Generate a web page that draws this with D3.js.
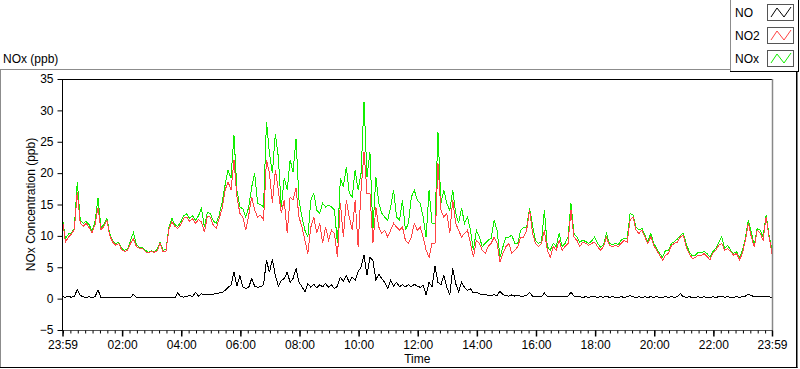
<!DOCTYPE html>
<html><head><meta charset="utf-8">
<script src="https://cdn.jsdelivr.net/npm/d3@7"></script>
<style>
body{margin:0;background:#fff}
svg{display:block}
text{font-family:"Liberation Sans",Arial,sans-serif;font-size:12px;fill:#000}
</style>
</head><body>
<svg id="chart" width="800" height="369"></svg>
<script>
// ---- data ----
const panelTitle = "NOx (ppb)";
const yTitle = "NOx Concentration (ppb)";
const xTitle = "Time";
const stepMinutes = 6; // sampling interval of the arrays below, starting at 23:59
const xTickMinutes = [0, 121, 241, 361, 481, 601, 721, 841, 961, 1081, 1201, 1321, 1440];
const xTickLabels = ["23:59","02:00","04:00","06:00","08:00","10:00","12:00","14:00","16:00","18:00","20:00","22:00","23:59"];
const yTickValues = [-5, 0, 5, 10, 15, 20, 25, 30, 35];
const seriesNames = ["NO", "NO2", "NOx"];
const seriesColors = ["#000000", "#ff4444", "#11ee00"];

const NO = [
0.3,0.2,0.4,0.2,0.4,1.4,0.5,0.3,0.2,0.3,
0.2,0.3,1.4,0.2,0.1,0.2,0.1,0.1,0.2,0.1,
0.1,0.2,0.1,0.2,0.7,0.2,0.1,0.1,0.1,0.1,
0.2,0.1,0.1,0.2,0.1,0.1,0.2,0.15,0.15,0.9,
0.3,0.25,0.3,0.5,0.3,1.0,0.4,0.8,0.6,0.6,
0.7,0.7,0.8,0.9,1.0,1.3,1.8,2.1,4.3,2.0,
3.6,1.9,1.6,1.8,3.2,2.0,1.8,1.9,2.2,6.1,
4.2,6.3,3.7,2.0,2.9,3.2,4.2,2.6,3.2,4.8,
2.6,1.9,1.1,2.4,1.8,2.3,1.7,2.2,1.9,2.4,
1.8,2.2,1.6,2.0,3.4,2.8,3.7,2.6,3.4,2.9,
4.3,5.0,7.0,3.7,6.6,6.1,3.0,3.9,3.2,2.6,
1.6,2.9,2.0,2.6,1.9,2.2,1.9,2.2,1.9,2.3,
2.0,1.8,2.1,0.6,2.6,1.9,5.2,2.6,2.2,3.7,
1.8,0.6,4.8,2.4,1.1,2.6,1.8,1.3,1.6,0.9,
1.0,0.8,0.6,0.7,0.5,0.5,0.6,0.5,1.2,0.6,
0.5,0.4,0.6,0.4,0.5,0.4,0.4,0.5,1.0,0.4,
0.3,0.4,0.3,0.9,0.3,0.3,0.4,0.3,0.3,0.3,
0.3,0.4,1.0,0.4,0.3,0.3,0.2,0.3,0.2,0.3,
0.3,0.2,0.3,0.2,0.4,0.2,0.3,0.2,0.2,0.3,
0.2,0.3,0.5,0.3,0.2,0.3,0.2,0.3,0.2,0.3,
0.2,0.3,0.2,0.2,0.3,0.2,0.3,0.2,0.3,0.8,
0.3,0.2,0.3,0.2,0.2,0.3,0.2,0.3,0.2,0.2,
0.3,0.2,0.3,0.4,0.2,0.3,0.2,0.2,0.3,0.2,
0.3,0.4,0.7,0.5,0.3,0.4,0.3,0.3,0.4,0.3,
0.2];

const NO2 = [
12.5,9.0,9.8,10.3,11.0,17.0,12.0,11.5,12.0,11.3,
10.5,11.8,14.5,11.0,11.5,12.5,10.0,9.0,8.5,8.8,
7.8,7.5,7.7,8.8,9.5,8.3,8.0,8.0,7.5,7.3,
7.5,7.4,7.6,8.8,7.5,7.6,11.0,12.3,11.5,11.2,
11.8,12.8,13.0,12.3,12.7,12.0,12.6,12.2,10.6,13.1,
13.0,11.7,11.2,12.8,14.4,17.3,18.6,17.3,22.1,16.2,
13.6,13.0,10.9,13.3,16.2,14.1,13.0,13.3,12.5,22.1,
20.0,15.2,20.5,17.3,13.6,15.7,10.4,16.2,15.7,17.6,
13.0,11.4,9.3,7.2,11.4,13.0,10.4,12.0,8.8,11.4,
9.3,10.9,10.4,6.6,15.2,9.8,15.7,13.0,10.9,15.7,
8.3,17.4,23.4,16.8,16.8,8.8,14.6,11.4,10.4,10.9,
9.8,10.9,12.0,11.4,10.9,11.4,9.3,8.8,9.8,12.0,
10.9,11.4,9.8,7.7,6.6,8.8,8.8,21.6,14.1,13.0,
13.6,10.4,15.7,12.0,10.9,9.8,10.4,10.9,8.8,6.6,
9.3,8.8,7.7,7.2,8.3,8.8,9.8,8.8,5.8,7.2,
8.3,8.8,7.2,7.7,8.3,9.8,9.8,10.9,14.1,10.4,
8.8,8.3,8.8,10.9,7.7,6.6,8.3,7.7,9.3,7.7,
8.3,8.8,14.1,9.8,9.3,8.3,9.0,8.8,8.5,8.8,
9.0,8.3,7.7,8.3,9.8,8.5,8.3,8.5,8.3,8.8,
9.3,9.0,12.5,13.0,10.9,10.4,10.9,9.8,8.8,9.85,
8.5,7.7,6.9,6.1,6.9,7.2,8.5,8.8,9.0,9.85,
10.1,8.2,7.2,6.4,6.5,6.9,6.8,7.2,6.7,6.2,
7.2,7.7,8.5,8.8,7.7,8.0,7.5,6.9,7.2,6.2,
7.2,9.3,12.0,9.85,8.2,10.9,10.4,9.3,13.0,9.85,
7.2];

const NOx = [
12.8,9.5,10.3,10.5,11.2,18.6,12.5,12.0,12.3,11.8,
10.8,12.3,16.0,11.3,11.8,12.8,10.3,9.2,8.8,9.0,
8.0,7.7,7.9,9.3,10.5,8.6,8.2,8.2,7.7,7.4,
7.6,7.5,7.8,9.0,7.7,7.8,11.3,12.8,11.8,11.5,
12.2,13.2,13.5,12.8,13.2,12.5,13.2,14.4,11.4,13.7,
13.6,12.4,12.0,13.3,15.4,18.1,20.5,19.2,26.1,17.3,
14.6,14.3,13.0,14.6,17.8,20.0,15.2,15.0,14.6,28.2,
23.2,20.0,26.3,22.6,14.6,19.2,17.3,22.1,20.2,25.5,
15.7,13.0,10.9,9.8,15.7,16.8,14.1,13.6,15.2,14.6,
14.9,14.6,14.1,8.8,19.2,17.8,21.0,16.8,16.2,20.5,
17.3,20.0,31.4,19.4,23.4,10.9,19.4,15.2,13.6,13.0,
12.5,14.6,17.3,13.0,12.5,15.7,10.9,12.0,16.2,17.3,
15.7,15.2,13.0,9.8,17.3,12.0,12.0,26.6,15.2,17.3,
15.2,14.1,17.3,13.6,12.0,14.4,12.0,13.0,10.9,7.7,
10.9,9.8,8.3,8.8,9.3,9.6,12.5,10.9,6.6,8.3,
9.8,9.8,10.1,8.8,8.8,10.9,11.4,11.4,14.4,11.7,
9.3,8.8,9.0,14.1,8.3,7.7,8.8,8.3,10.4,8.3,
8.8,9.8,15.2,10.4,9.8,9.0,9.3,9.1,8.8,9.2,
9.8,8.8,8.2,8.6,10.4,8.8,8.6,8.8,8.6,9.3,
9.6,9.5,13.6,13.3,11.4,10.9,11.2,10.1,9.1,10.4,
8.8,8.0,7.2,6.6,7.7,7.7,8.8,9.1,9.5,10.1,
10.4,8.7,7.5,6.8,6.9,7.4,7.3,7.5,7.2,6.6,
7.5,8.0,9.0,9.85,8.0,8.5,7.7,7.2,7.5,6.5,
7.7,9.6,12.5,10.6,8.5,11.2,10.9,9.8,13.3,10.1,
7.7];

// ---- chart ----
const svg = d3.select("#chart");
const plot = {left: 62.5, right: 772, top: 79, bottom: 330};
const x = d3.scaleLinear().domain([0, 1440]).range([plot.left, plot.right]);
const y = d3.scaleLinear().domain([-5, 35]).range([plot.bottom, plot.top]);

// outer panel frame
svg.append("line").attr("x1",0).attr("x2",731).attr("y1",69.5).attr("y2",69.5).attr("stroke","#8c8c8c");
svg.append("line").attr("x1",0.5).attr("x2",0.5).attr("y1",69.5).attr("y2",368).attr("stroke","#8c8c8c");
svg.append("line").attr("x1",0).attr("x2",797.5).attr("y1",367.5).attr("y2",367.5).attr("stroke","#000");
svg.append("line").attr("x1",796.75).attr("x2",796.75).attr("y1",69.5).attr("y2",368).attr("stroke","#000").attr("stroke-width",1.5);

svg.append("text").attr("x",3).attr("y",63).text(panelTitle);

// series
const lineGen = arr => d3.line()
  .x((d,i) => x(i*stepMinutes))
  .y(d => y(d))(arr);

const drawOrder = [[NOx, seriesColors[2]], [NO2, seriesColors[1]], [NO, seriesColors[0]]];
drawOrder.forEach(([arr, col]) => {
  svg.append("path").attr("d", lineGen(arr)).attr("fill","none")
    .attr("stroke", col).attr("stroke-width", 1).attr("shape-rendering","crispEdges");
});

// plot frame
svg.append("line").attr("x1",plot.left).attr("x2",plot.right).attr("y1",plot.top+0.5).attr("y2",plot.top+0.5).attr("stroke","#000");
svg.append("line").attr("x1",plot.right+0.5).attr("x2",plot.right+0.5).attr("y1",plot.top).attr("y2",plot.bottom).attr("stroke","#888").attr("stroke-width",1.5);
svg.append("line").attr("x1",plot.left).attr("x2",plot.right+1).attr("y1",plot.bottom+0.5).attr("y2",plot.bottom+0.5).attr("stroke","#555");
svg.append("line").attr("x1",plot.left).attr("x2",plot.left).attr("y1",plot.top).attr("y2",plot.bottom+1).attr("stroke","#000");

// y axis
const yAxis = d3.axisLeft(y).tickValues(yTickValues).tickSize(5).tickPadding(4);
const gy = svg.append("g").attr("transform",`translate(${plot.left},0)`).call(yAxis);
gy.select(".domain").remove();
gy.selectAll("text").style("font-size","12px").style("font-family",'"Liberation Sans",Arial,sans-serif').attr("fill","#000");

// x axis: minor ticks every 15 min, major ticks with labels
const minorTicks = d3.range(1, 1440, 15);
const gxm = svg.append("g").attr("transform",`translate(0,${plot.bottom+0.5})`)
  .call(d3.axisBottom(x).tickValues(minorTicks).tickSize(3).tickFormat(""));
gxm.select(".domain").remove();
const gx = svg.append("g").attr("transform",`translate(0,${plot.bottom+0.5})`)
  .call(d3.axisBottom(x).tickValues(xTickMinutes).tickSize(6).tickPadding(4)
    .tickFormat((d,i) => xTickLabels[i]));
gx.select(".domain").remove();
gx.selectAll("line").attr("stroke-width",1.5);
gx.selectAll("text").style("font-size","12px").style("font-family",'"Liberation Sans",Arial,sans-serif').attr("fill","#000");

// axis titles
svg.append("text").attr("x",(plot.left+plot.right)/2).attr("y",363).attr("text-anchor","middle").text(xTitle);
svg.append("text").attr("transform",`translate(35,${(plot.top+plot.bottom)/2}) rotate(-90)`)
  .attr("text-anchor","middle").text(yTitle);

// legend
const lg = svg.append("g");
lg.append("rect").attr("x",730.5).attr("y",-1).attr("width",80).attr("height",72.5).attr("fill","#fff").attr("stroke","none");
lg.append("line").attr("x1",730.5).attr("x2",730.5).attr("y1",0).attr("y2",72).attr("stroke","#8c8c8c");
lg.append("line").attr("x1",730).attr("x2",799).attr("y1",71.5).attr("y2",71.5).attr("stroke","#000");
lg.append("line").attr("x1",798.5).attr("x2",798.5).attr("y1",0).attr("y2",72).attr("stroke","#000");
seriesNames.forEach((name, i) => {
  const yb = 4 + i*23;
  lg.append("text").attr("x",735).attr("y",yb+13).text(name);
  lg.append("rect").attr("x",767.5).attr("y",yb+0.5).attr("width",26).attr("height",16)
    .attr("fill","#fff").attr("stroke","#555");
  const p = d3.path();
  p.moveTo(771, yb+13); p.lineTo(777, yb+4); p.lineTo(784, yb+13); p.lineTo(791, yb+3);
  lg.append("path").attr("d", p.toString()).attr("fill","none").attr("stroke", seriesColors[i]);
});
</script>
</body></html>
